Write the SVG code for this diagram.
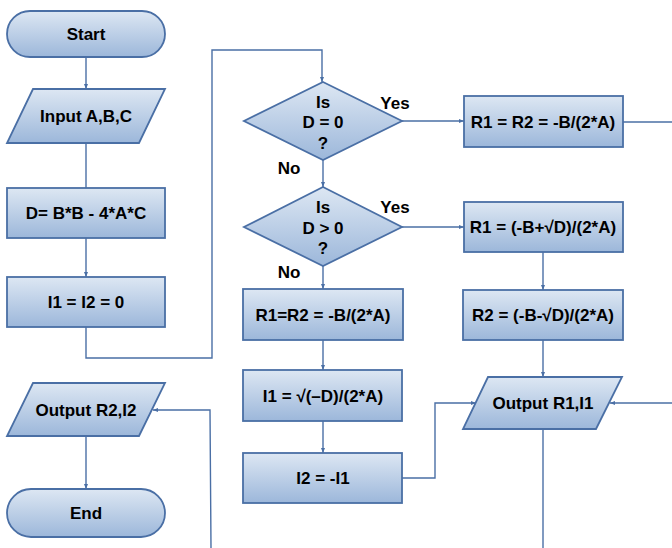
<svg xmlns="http://www.w3.org/2000/svg" width="672" height="548" viewBox="0 0 672 548">
<defs>
<linearGradient id="g" x1="0" y1="0" x2="0" y2="1">
<stop offset="0" stop-color="#dde7f3"/>
<stop offset="1" stop-color="#9cb7da"/>
</linearGradient>
<marker id="a" viewBox="0 0 10 10" refX="10" refY="5" markerWidth="5" markerHeight="5" orient="auto" markerUnits="userSpaceOnUse">
<path d="M0,1 L10,5 L0,9 z" fill="#4a6fa5"/>
</marker>
<style>
.s{fill:url(#g);stroke:#4a6fa5;stroke-width:1.8}
.t{font-family:"Liberation Sans",Arial,sans-serif;font-weight:bold;font-size:17px;fill:#000;text-anchor:middle;dominant-baseline:central}
.c{fill:none;stroke:#4a6fa5;stroke-width:1.4;marker-end:url(#a)}
.n{fill:none;stroke:#4a6fa5;stroke-width:1.4}
</style>
</defs>
<rect width="672" height="548" fill="#fff"/>
<g id="connectors">
<path class="c" d="M86,58 V89"/>
<path class="n" d="M86,143 V188"/>
<path class="c" d="M86,238 V277"/>
<path class="c" d="M86,327 V358 H212 V50 H322 V82"/>
<path class="c" d="M402,121 H464"/>
<path class="n" d="M623,122 H672"/>
<path class="c" d="M323,160 V187"/>
<path class="c" d="M402,227 H464"/>
<path class="c" d="M323,266 V289"/>
<path class="c" d="M323,340 V370"/>
<path class="c" d="M323,421 V453"/>
<path class="c" d="M543,252 V290"/>
<path class="c" d="M543,340 V377"/>
<path class="c" d="M402,478 H435 V403 H476"/>
<path class="c" d="M672,403 H610"/>
<path class="n" d="M543,429 V548"/>
<path class="c" d="M211,548 L210,410 H153"/>
<path class="c" d="M86,436 V489"/>
</g>
<g id="start"><rect class="s" x="7" y="11" width="158" height="46" rx="23"/><text class="t" x="86" y="34">Start</text></g>
<g id="input"><polygon class="s" points="33,89 165,89 139,143 7,143"/><text class="t" x="86" y="116">Input A,B,C</text></g>
<g id="calcD"><rect class="s" x="7" y="188" width="158" height="50"/><text class="t" x="86" y="213">D= B*B - 4*A*C</text></g>
<g id="initI"><rect class="s" x="7" y="277" width="158" height="50"/><text class="t" x="86" y="302">I1 = I2 = 0</text></g>
<g id="outR2"><polygon class="s" points="33,383 165,383 139,436 7,436"/><text class="t" x="86" y="410">Output R2,I2</text></g>
<g id="end"><rect class="s" x="7" y="489" width="158" height="48" rx="24"/><text class="t" x="86" y="513">End</text></g>
<g id="dec1"><polygon class="s" points="323,82 402,121 323,160 244,121"/><text class="t" x="323" y="102">Is</text><text class="t" x="323" y="122">D = 0</text><text class="t" x="323" y="143">?</text><text class="t" x="395" y="103">Yes</text><text class="t" x="289" y="168">No</text></g>
<g id="dec2"><polygon class="s" points="323,187 402,227 323,266 244,227"/><text class="t" x="323" y="207">Is</text><text class="t" x="323" y="228">D &gt; 0</text><text class="t" x="323" y="248">?</text><text class="t" x="395" y="207">Yes</text><text class="t" x="289" y="272">No</text></g>
<g id="eqroots"><rect class="s" x="464" y="96" width="159" height="51"/><text class="t" x="543" y="122">R1 = R2 = -B/(2*A)</text></g>
<g id="r1"><rect class="s" x="464" y="202" width="159" height="50"/><text class="t" x="543" y="227">R1 = (-B+√D)/(2*A)</text></g>
<g id="r2"><rect class="s" x="463" y="290" width="160" height="50"/><text class="t" x="543" y="315">R2 = (-B-√D)/(2*A)</text></g>
<g id="outR1"><polygon class="s" points="488,377 622,377 596,429 463,429"/><text class="t" x="543" y="403">Output R1,I1</text></g>
<g id="complexR"><rect class="s" x="243" y="289" width="160" height="51"/><text class="t" x="323" y="315">R1=R2 = -B/(2*A)</text></g>
<g id="i1"><rect class="s" x="243" y="370" width="159" height="51"/><text class="t" x="323" y="396">I1 = √(–D)/(2*A)</text></g>
<g id="i2"><rect class="s" x="243" y="453" width="159" height="50"/><text class="t" x="323" y="478">I2 = -I1</text></g>
</svg>
